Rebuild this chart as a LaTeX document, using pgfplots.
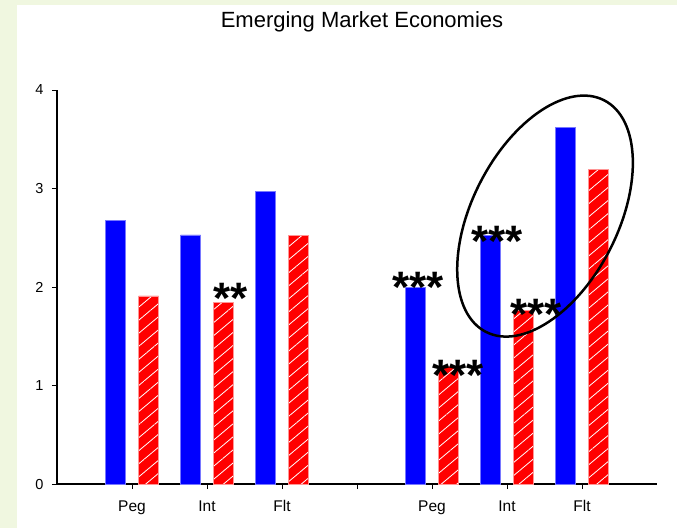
\documentclass[border=0pt]{standalone}
\usepackage{fontspec}
\setmainfont{Liberation Sans}
\usepackage{pgfplots}
\pgfplotsset{compat=1.18}
\usetikzlibrary{patterns.meta}
\definecolor{bgg}{RGB}{240,247,224}
\definecolor{barblue}{RGB}{0,0,255}
\definecolor{barred}{RGB}{255,0,0}
\definecolor{blueedge}{RGB}{120,120,255}
\definecolor{rededge}{RGB}{255,150,150}
\begin{document}
\begin{tikzpicture}
\fill[bgg] (0pt,-528pt) rectangle (677pt,0pt);
\fill[white] (17pt,-528pt) rectangle (677pt,-5pt);
\begin{axis}[
  at={(57pt,-484pt)}, anchor=south west,
  scale only axis, width=600pt, height=394pt,
  xmin=0, xmax=8, ymin=0, ymax=4,
  axis x line=bottom, axis y line=left,
  axis line style={-, black, line width=1.1pt},
  x axis line style={line width=1.4pt},
  tick align=outside, major tick length=5pt,
  tick style={black, line width=0.9pt},
  xtick={1,2,3,4,5,6,7},
  xticklabels={Peg,Int,Flt,,Peg,Int,Flt},
  ytick={0,1,2,3,4},
  /pgf/number format/assume math mode=true,
  xticklabel style={font=\fontsize{15.5}{18}\selectfont, yshift=-8pt},
  yticklabel style={font=\fontsize{14.5}{17}\selectfont, xshift=-5pt},
  ybar, bar width=20pt,
  clip=false,
]
\addplot[bar shift=-16.5pt, fill=barblue, draw=blueedge, line width=0.6pt]
  coordinates {(1,2.68) (2,2.53) (3,2.97) (5,2.00) (6,2.52) (7,3.62)};
\addplot[bar shift=16.5pt, fill=barred, draw=rededge, line width=0.6pt,
  postaction={pattern={Lines[angle=40,distance=10pt,line width=0.8pt]},pattern color=white}]
  coordinates {(1,1.91) (2,1.84) (3,2.52) (5,1.19) (6,1.76) (7,3.19)};
\tikzset{stars/.style={anchor=base, inner sep=0pt, font=\fontsize{44}{44}\selectfont\bfseries}}
\node[stars] at (axis cs:2.32,1.73) {**};
\node[stars] at (axis cs:4.813,1.838) {***};
\node[stars] at (axis cs:5.347,0.95) {***};
\node[stars] at (axis cs:5.867,2.31) {***};
\node[stars] at (axis cs:6.387,1.57) {***};
\coordinate (ec) at (axis cs:6.507,2.72);
\end{axis}
\draw[line width=2.5pt, rotate=63] (ec) ellipse [x radius=130pt, y radius=73pt];
\node[font=\fontsize{22}{26}\selectfont] at (362pt,-22pt) {Emerging Market Economies};
\pgfresetboundingbox
\path (0pt,-528pt) rectangle (677pt,0pt);
\end{tikzpicture}
\end{document}
